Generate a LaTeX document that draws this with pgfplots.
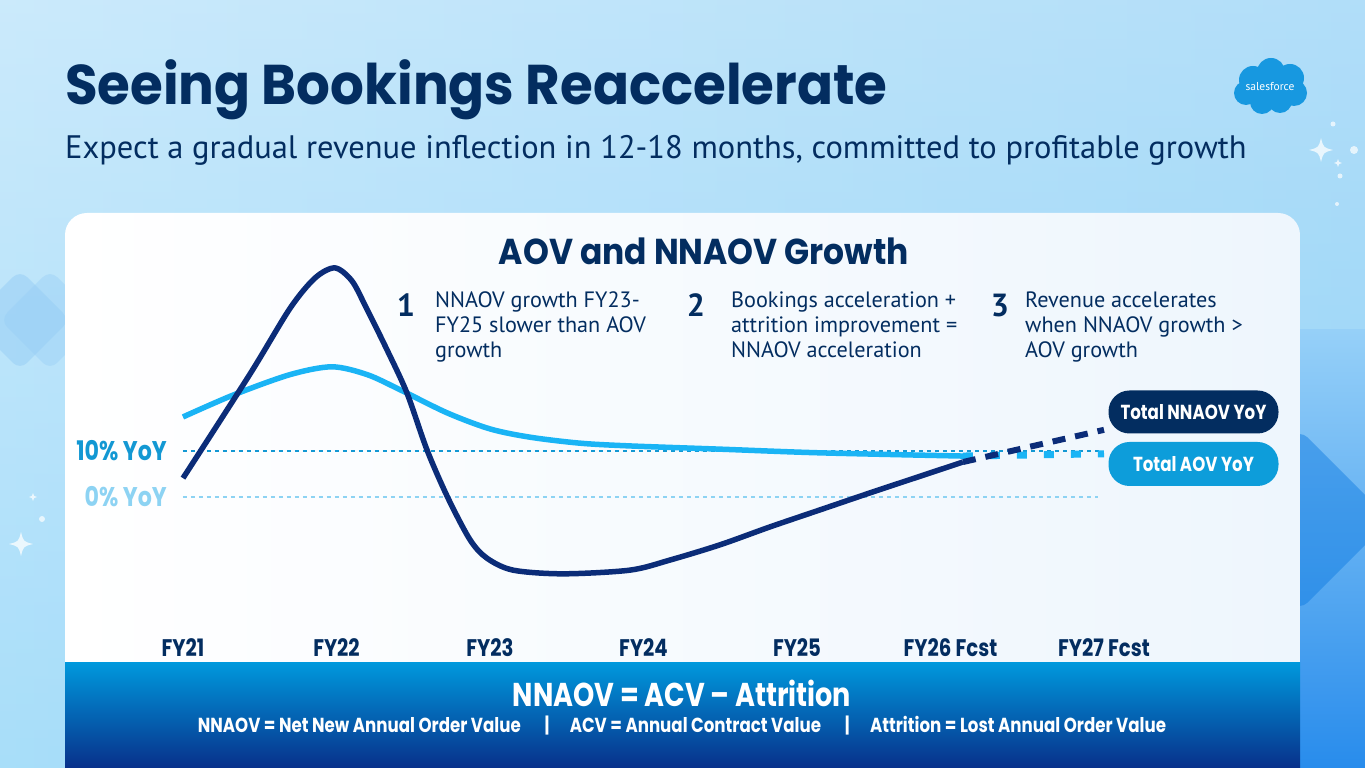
\documentclass[border=0pt]{standalone}
\usepackage{fontspec}
\usepackage{graphicx}
\usepackage{pgfplots}
\pgfplotsset{compat=1.18}
\setmainfont{PT Sans}
\newfontfamily\geo{Poppins}
\newfontfamily\geoc{Poppins}[FakeStretch=0.82]

\definecolor{navy}{HTML}{032D60}
\definecolor{nnaov}{HTML}{0B2C78}
\definecolor{aov}{HTML}{1AB4F5}
\definecolor{tenc}{HTML}{1398D3}
\definecolor{zeroc}{HTML}{8DD3F3}
\definecolor{pillaov}{HTML}{0D9DDA}
\definecolor{bgtop}{HTML}{CBEAFB}
\definecolor{bgbot}{HTML}{74CCF8}
\definecolor{bgright}{HTML}{A0D6F8}
\definecolor{stripa}{HTML}{96D0F8}
\definecolor{stripb}{HTML}{288CEC}
\definecolor{diadark}{HTML}{0A78E1}
\definecolor{dialight}{HTML}{96CDF5}
\definecolor{cardr}{HTML}{EEF6FD}
\definecolor{foota}{HTML}{0098DC}
\definecolor{footb}{HTML}{08308A}
\definecolor{sfblue}{HTML}{1798E0}

% four-point sparkle, pixel coordinates
\newcommand\spark[3]{\fill[white,opacity=0.75] (#1,#2-#3) .. controls (#1+0.2*#3,#2-0.2*#3) .. (#1+#3,#2) .. controls (#1+0.2*#3,#2+0.2*#3) .. (#1,#2+#3) .. controls (#1-0.2*#3,#2+0.2*#3) .. (#1-#3,#2) .. controls (#1-0.2*#3,#2-0.2*#3) .. cycle;}

\begin{document}
\begin{tikzpicture}
\path[use as bounding box] (0,0) rectangle (1365pt,768pt);
\clip (0,0) rectangle (1365pt,768pt);

\begin{scope}[x=1pt,y=-1pt,shift={(0pt,768pt)}]
  % background
  \shade[top color=bgtop, bottom color=bgbot] (0,0) rectangle (1365,768);
  \shade[left color=bgtop, right color=bgright, fill opacity=0.6] (0,0) rectangle (1365,768);
  \shade[top color=stripa, bottom color=stripb] (1290,330) rectangle (1365,768);
  \fill[diadark, opacity=0.45, rounded corners=10pt] (1300,430) -- (1390,520) -- (1300,610) -- (1210,520) -- cycle;
  \fill[dialight, opacity=0.5, rounded corners=10pt] (20,270) -- (70,320) -- (20,370) -- (-30,320) -- cycle;
  \fill[dialight, opacity=0.4, rounded corners=10pt] (50,270) -- (100,320) -- (50,370) -- (0,320) -- cycle;
  \spark{1321}{150}{12}
  \spark{1338}{163}{4}
  \fill[white,opacity=0.7] (1333,124) circle (2.5) (1354,150) circle (4) (1340,176) circle (2.5) (1337,204) circle (2);
  \spark{21}{544}{12}
  \spark{33}{497}{4}
  \fill[white,opacity=0.7] (42,519) circle (3);

  % salesforce cloud
  \fill[sfblue] (1253,80) circle (14) (1271,72) circle (14) (1290,78) circle (14)
     (1294,93) circle (13) (1280,101) circle (12) (1262,102) circle (12) (1246,93) circle (12)
     (1270,88) circle (16);
  \node[text=white, font=\fontsize{11.5}{11.5}\selectfont] at (1270,87) {salesforce};

  % titles
  \node[anchor=base west, inner sep=0pt, text=navy, font=\geo\bfseries\fontsize{56}{56}\selectfont]
    at (65,105) {\scalebox{0.948}[1]{Seeing Bookings Reaccelerate}};
  \node[anchor=base west, inner sep=0pt, text=navy, font=\fontsize{32.5}{32.5}\selectfont]
    at (65,159) {Expect a gradual revenue inflection in 12-18 months, committed to profitable growth};

  % card and footer
  \shade[left color=white, right color=cardr, rounded corners=22pt] (65,213) rectangle (1300,720);
  \shade[top color=foota, bottom color=footb] (65,663) rectangle (1300,768);
\end{scope}

\begin{axis}[
  at={(167pt,120pt)}, anchor=south west,
  x=153.5pt, y=4.6pt,
  xmin=-0.1042, xmax=7.2769, ymin=-32.826, ymax=55,
  axis line style={draw=none}, major tick length=0pt,
  xtick={0,...,6},
  xticklabels={FY21,FY22,FY23,FY24,FY25,FY26 Fcst,FY27 Fcst},
  xticklabel style={anchor=center, text=navy, font=\geoc\bfseries\fontsize{24}{24}\selectfont},
  ytick={0,10},
  yticklabels={\textcolor{zeroc}{0\% YoY},\textcolor{tenc}{10\% YoY}},
  yticklabel style={anchor=east, inner sep=0pt, font=\geoc\bfseries\fontsize{27}{27}\selectfont},
  clip=false,
]
\addplot[tenc, line width=2.2pt, dash pattern=on 4pt off 4pt] coordinates {(0,10) (5.98,10)};
\addplot[zeroc, line width=2.2pt, dash pattern=on 4pt off 4pt] coordinates {(0,0) (5.96,0)};
% Total AOV YoY
\addplot[aov, line width=5.5pt, smooth, tension=0.5] coordinates {
  (0,17.4) (0.33,22.2) (0.697,26.6) (0.97,28.3) (1.2,26.6) (1.415,23.3) (1.72,18.3)
  (2.0,14.8) (2.261,13.0) (2.586,11.7) (2.912,11.1) (3.498,10.4) (4.15,9.6) (5.081,8.9)};
\addplot[aov, line width=7pt, dash pattern=on 10pt off 17pt] coordinates {(5.081,8.9) (6,9.4)};
% Total NNAOV YoY
\addplot[nnaov, line width=5.5pt, smooth, tension=0.5] coordinates {
  (0,4.1) (0.436,26.7) (0.697,41.0) (0.86,47.6) (0.99,49.8) (1.1,47.0) (1.19,41.4)
  (1.329,32.0) (1.459,22.6) (1.59,10.2) (1.726,-0.2) (1.87,-9.3) (1.98,-13.3)
  (2.15,-15.9) (2.476,-16.7) (2.912,-15.9) (3.173,-13.7) (3.498,-10.4) (3.824,-6.5)
  (4.15,-2.8) (4.476,0.9) (4.801,4.5) (5.081,7.6)};
\addplot[nnaov, line width=6pt, dash pattern=on 13pt off 10pt] coordinates {(5.081,7.6) (6,14.6)};
\end{axis}

\begin{scope}[x=1pt,y=-1pt,shift={(0pt,768pt)}]
  \node[text=navy, font=\geo\bfseries\fontsize{36}{36}\selectfont, anchor=base, inner sep=0pt]
    at (704,265) {\scalebox{0.915}[1]{AOV and NNAOV Growth}};
  % numbered notes
  \foreach \n/\xn/\xt/\note in {
      1/406/435/{NNAOV growth FY23-\\FY25 slower than AOV\\growth},
      2/696/731/{Bookings acceleration +\\attrition improvement =\\NNAOV acceleration},
      3/1000/1025/{Revenue accelerates\\when NNAOV growth >\\AOV growth}} {
    \node[anchor=base, inner sep=0pt, text=navy, font=\bfseries\fontsize{32}{32}\selectfont] at (\xn,317) {\n};
    \node[anchor=north west, inner sep=0pt, align=left, text=navy, font=\fontsize{22.2}{24.8}\selectfont] at (\xt,292) {\note};
  }
  % series labels
  \node[fill=navy, text=white, rounded corners=21pt, minimum width=170pt, minimum height=43pt,
        font=\geoc\bfseries\fontsize{20.3}{20.3}\selectfont] at (1193.5,412) {Total NNAOV YoY};
  \node[fill=pillaov, text=white, rounded corners=21pt, minimum width=170pt, minimum height=44pt,
        font=\geoc\bfseries\fontsize{20.3}{20.3}\selectfont] at (1193.5,464) {Total AOV YoY};
  % footer text
  \node[anchor=base, inner sep=0pt, text=white, font=\geoc\bfseries\fontsize{33}{33}\selectfont]
    at (682,707) {NNAOV = ACV – Attrition};
  \node[anchor=base, inner sep=0pt, text=white, font=\geoc\bfseries\fontsize{20.3}{20.3}\selectfont]
    at (682,733) {NNAOV = Net New Annual Order Value \quad|\quad ACV = Annual Contract Value \quad|\quad Attrition = Lost Annual Order Value};
\end{scope}
\end{tikzpicture}
\end{document}
